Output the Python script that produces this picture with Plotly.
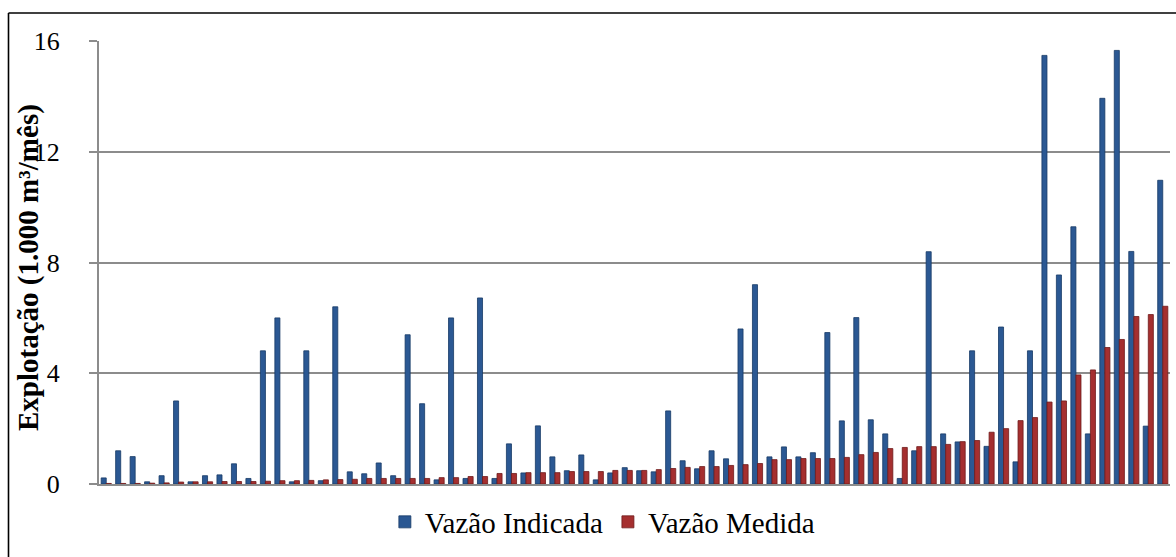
import plotly.graph_objects as go

# Monthly abstraction per well (thousand m³/month): indicated vs measured
wells = list(range(1, 75))

vazao_indicada = [
    0.22, 1.2, 0.99, 0.08, 0.3, 3.0, 0.08, 0.3, 0.33, 0.73,
    0.2, 4.81, 6.0, 0.08, 4.81, 0.12, 6.4, 0.44, 0.37, 0.76,
    0.3, 5.39, 2.9, 0.15, 6.0, 0.2, 6.72, 0.2, 1.45, 0.4,
    2.1, 0.98, 0.48, 1.05, 0.15, 0.4, 0.59, 0.48, 0.44, 2.64,
    0.84, 0.55, 1.2, 0.91, 5.6, 7.2, 0.98, 1.34, 0.98, 1.13,
    5.47, 2.28, 6.01, 2.32, 1.81, 0.2, 1.2, 8.39, 1.81, 1.52,
    4.81, 1.36, 5.67, 0.8, 4.81, 15.48, 7.55, 9.29, 1.81, 13.93,
    15.66, 8.4, 2.09, 10.97,
]

vazao_medida = [
    0.02, 0.02, 0.02, 0.03, 0.04, 0.07, 0.08, 0.08, 0.09, 0.09,
    0.09, 0.1, 0.12, 0.12, 0.13, 0.15, 0.16, 0.17, 0.2, 0.2,
    0.2, 0.2, 0.2, 0.23, 0.23, 0.27, 0.27, 0.38, 0.38, 0.41,
    0.41, 0.41, 0.45, 0.45, 0.45, 0.49, 0.49, 0.49, 0.52, 0.56,
    0.6, 0.63, 0.63, 0.67, 0.7, 0.74, 0.88, 0.88, 0.92, 0.92,
    0.92, 0.96, 1.06, 1.14, 1.28, 1.32, 1.35, 1.35, 1.43, 1.53,
    1.57, 1.87, 2.0, 2.29, 2.4, 2.96, 3.0, 3.94, 4.12, 4.93,
    5.22, 6.05, 6.12, 6.42,
]

y_ticks = [0, 4, 8, 12, 16]

SERIF = "Liberation Serif"

fig = go.Figure()
fig.add_trace(go.Bar(
    x=wells, y=vazao_indicada, name="Vazão Indicada",
    marker=dict(color="#2b5893", line=dict(color="#173a66", width=0.8)),
))
fig.add_trace(go.Bar(
    x=wells, y=vazao_medida, name="Vazão Medida",
    marker=dict(color="#a52f2f", line=dict(color="#6e1a1a", width=0.8)),
))

# Plot-area margins in pixels and helpers to place items in paper units
L, R, T, B = 99, 6, 41, 73
pw, ph = 1176 - L - R, 557 - T - B
def px(x):
    return (x - L) / pw
def py(y):
    return 1 - (y - T) / ph

# Outer chart frame (top and left edges fall inside the page)
fig.add_shape(type="line", xref="paper", yref="paper",
              x0=px(8.5), x1=px(1176), y0=py(13), y1=py(13),
              line=dict(color="black", width=1.6))
fig.add_shape(type="line", xref="paper", yref="paper",
              x0=px(8.5), x1=px(8.5), y0=py(13), y1=py(557),
              line=dict(color="black", width=1.6))

# Vertical axis title
fig.add_annotation(
    text="<b>Explotação (1.000 m³/mês)</b>", textangle=-90,
    xref="paper", yref="paper", x=px(28), y=py(268),
    xanchor="center", yanchor="middle", showarrow=False,
    font=dict(family=SERIF, size=29, color="black"),
)

fig.update_layout(
    width=1176, height=557,
    margin=dict(l=L, r=R, t=T, b=B),
    paper_bgcolor="white", plot_bgcolor="white",
    barmode="group", bargap=0.3, bargroupgap=0.0,
    font=dict(family=SERIF, color="black"),
    legend=dict(
        orientation="h", x=0.47, xanchor="center", y=py(522), yanchor="middle",
        font=dict(family=SERIF, size=29, color="black"), itemwidth=30,
        bgcolor="rgba(0,0,0,0)",
    ),
    xaxis=dict(
        range=[0.5, 74.5], showticklabels=False, showgrid=False,
        showline=True, linecolor="#8c8c8c", linewidth=2, ticks="",
        zeroline=False,
    ),
    yaxis=dict(
        range=[0, 16], tickvals=y_ticks, ticktext=[str(v) for v in y_ticks],
        showgrid=True, gridcolor="#8c8c8c", gridwidth=2,
        showline=True, linecolor="#8c8c8c", linewidth=2,
        ticks="outside", ticklen=8, tickcolor="#8c8c8c", tickwidth=2,
        ticklabelstandoff=24,
        tickfont=dict(family=SERIF, size=26, color="black"),
        zeroline=False,
    ),
)

fig.write_html("out.html")
